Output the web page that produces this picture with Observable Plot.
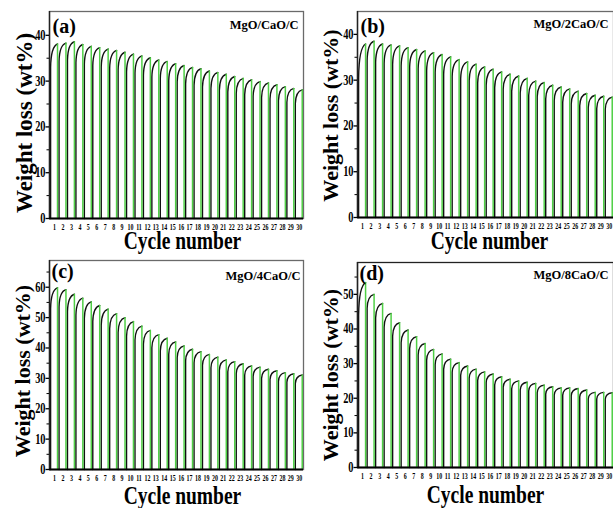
<!DOCTYPE html>
<html><head><meta charset="utf-8">
<script src="https://cdn.jsdelivr.net/npm/d3@7"></script>
<script src="https://cdn.jsdelivr.net/npm/@observablehq/plot@0.6"></script>
<style>
body{margin:0;background:#fff}
#fig{position:relative;width:613px;height:508px;overflow:hidden;background:#fff}
#fig svg{position:absolute}
</style></head><body><div id="fig"></div>
<script>
const cycles = [1,2,3,4,5,6,7,8,9,10,11,12,13,14,15,16,17,18,19,20,21,22,23,24,25,26,27,28,29,30];

const peaksA  = [38.1,38.3,38.6,38.0,37.6,37.3,37.0,36.7,36.3,35.9,35.5,35.1,34.6,34.3,33.8,33.4,33.0,32.7,32.2,31.9,31.5,31.0,30.6,30.3,29.9,29.6,29.2,28.8,28.4,28.1];
const startsA = [33.0,34.3,34.6,34.0,33.7,33.4,33.1,32.8,32.4,32.0,31.7,31.3,30.9,30.6,30.1,29.8,29.4,29.1,28.7,28.4,28.0,27.6,27.3,27.0,26.7,26.4,26.1,25.7,25.4,25.1];

const peaksB  = [37.9,38.5,37.9,37.7,37.5,37.1,36.7,36.4,36.0,35.6,35.1,34.5,34.0,33.5,32.9,32.4,31.8,31.3,30.9,30.4,29.8,29.5,28.9,28.5,28.1,27.6,27.1,26.7,26.5,26.3];
const startsB = [30.5,34.3,33.9,33.7,33.5,33.1,32.8,32.5,32.1,31.7,31.3,30.8,30.3,29.9,29.4,28.9,28.4,28.0,27.6,27.2,26.7,26.4,25.9,25.5,25.2,24.8,24.4,24.0,23.8,23.6];

const peaksC  = [59.8,59.2,57.7,56.4,55.2,54.0,52.8,51.3,50.0,48.7,47.2,45.8,44.4,43.2,42.0,40.7,39.6,38.8,37.9,37.0,36.1,35.5,34.8,34.1,33.7,33.0,32.5,31.9,31.5,31.1];
const startsC = [53.0,53.5,52.0,50.8,49.8,48.7,47.6,46.3,45.1,43.9,42.6,41.3,40.1,39.0,37.9,36.8,35.8,35.1,34.3,33.5,32.7,32.2,31.6,31.0,30.6,30.0,29.6,29.0,28.7,28.3];

const peaksD  = [53.4,50.0,47.4,44.5,41.8,39.7,37.8,35.8,34.1,32.8,31.3,30.3,29.3,28.4,27.6,27.0,26.2,25.5,25.0,24.6,24.3,23.8,23.3,23.0,23.0,22.8,22.4,21.7,21.7,21.6];
const startsD = [44.0,46.0,43.2,40.5,38.0,36.0,34.3,32.5,31.0,29.7,28.4,27.5,26.6,25.8,25.1,24.5,23.8,23.2,22.7,22.4,22.1,21.6,21.2,20.9,20.9,20.7,20.4,19.8,19.8,19.7];

const yTicksAB = [0,10,20,30,40];
const yTicksC = [0,10,20,30,40,50,60];
const yTicksD = [0,10,20,30,40,50];
const yMinorAB = [5,15,25,35];
const yMinorC = [5,15,25,35,45,55,65];
const yMinorD = [5,15,25,35,45,55];

const panelLabels = ["(a)","(b)","(c)","(d)"];
const sampleNames = ["MgO/CaO/C","MgO/2CaO/C","MgO/4CaO/C","MgO/8CaO/C"];
const xTitle = "Cycle number";
const yTitle = "Weight loss (wt%)";

const FONT = "Liberation Serif, Times New Roman, serif";
const GREEN = "#4fcf45";
const X0 = 0.4, X1 = 30.5;

// TGA-like cycle shape: vertical jump, then steep-then-flattening rise
function tgaCurve(context) {
  let pts = [];
  return {
    areaStart() {}, areaEnd() {},
    lineStart() { pts = []; },
    point(x, y) { pts.push([+x, +y]); },
    lineEnd() {
      if (!pts.length) return;
      context.moveTo(pts[0][0], pts[0][1]);
      for (let i = 1; i < pts.length; i++) {
        const [xa, ya] = pts[i - 1], [xb, yb] = pts[i];
        if (Math.abs(xb - xa) < 0.01) { context.lineTo(xb, yb); continue; }
        const dx = xb - xa, dy = yb - ya;
        context.bezierCurveTo(xa + 0.04 * dx, ya + 0.62 * dy, xa + 0.38 * dx, ya + 0.93 * dy, xb, yb);
      }
    }
  };
}

const panels = [
  {peaks: peaksA, starts: startsA, yMax: 45.2, ticks: yTicksAB, minor: yMinorAB, left: 0, top: 0, width: 306, height: 258, mt: 11, mb: 40, mr: 3,
   xt: {dx: 6, dy: 30}, yt: {dx: -25, dy: 8, size: 23}, lab: {dx: 3, dy: 7}, nm: {dx: -5, dy: 9}},
  {peaks: peaksB, starts: startsB, yMax: 45, ticks: yTicksAB, minor: yMinorAB, left: 308, top: 0, width: 308, height: 258, mt: 11, mb: 41, mr: 3,
   xt: {dx: 4, dy: 31}, yt: {dx: -27, dy: 1, size: 22}, lab: {dx: 3, dy: 7}, nm: {dx: -5, dy: 8}},
  {peaks: peaksC, starts: startsC, yMax: 68.8, ticks: yTicksC, minor: yMinorC, left: 0, top: 250, width: 306, height: 258, mt: 10, mb: 39, mr: 3,
   xt: {dx: 6, dy: 34}, yt: {dx: -27, dy: 6, size: 22}, lab: {dx: 2, dy: 3}, nm: {dx: -3, dy: 11}},
  {peaks: peaksD, starts: startsD, yMax: 59.2, ticks: yTicksD, minor: yMinorD, left: 308, top: 250, width: 308, height: 258, mt: 12, mb: 41, mr: 3,
   xt: {dx: 0, dy: 35}, yt: {dx: -27, dy: 10, size: 22}, lab: {dx: 2, dy: 3}, nm: {dx: -5, dy: 8}}
];

const fig = document.getElementById("fig");

panels.forEach((p, k) => {
  const blackPts = [];
  cycles.forEach((c, i) => {
    blackPts.push({c, x: c - 0.47, y: 0});
    blackPts.push({c, x: c - 0.47, y: p.starts[i]});
    blackPts.push({c, x: c + 0.35, y: p.peaks[i]});
  });
  const chart = Plot.plot({
    width: p.width, height: p.height,
    marginLeft: 49, marginRight: p.mr, marginTop: p.mt, marginBottom: p.mb,
    x: {domain: [X0, X1], axis: null},
    y: {domain: [0, p.yMax], axis: null},
    style: {background: "transparent", overflow: "visible"},
    marks: [
      Plot.frame({stroke: k === 3 ? "#222" : "#6a6a6a", strokeWidth: 1.3}),
      Plot.line(blackPts, {x: "x", y: "y", z: "c", stroke: "#111", strokeWidth: 1.4, curve: tgaCurve}),
      Plot.ruleX(cycles, {x: c => c + 0.35, y1: 0, y2: (c, i) => p.peaks[i], stroke: GREEN, strokeWidth: 1.5}),
      Plot.ruleX([X0], {stroke: "#222", strokeWidth: 1.4}),
      Plot.ruleY([0], {stroke: "#000", strokeWidth: 2.2}),
      Plot.ruleY(p.ticks, {y: d => d, x1: X0, x2: X0, insetLeft: -3.5, stroke: "#000", strokeWidth: 1.3}),
      Plot.ruleY(p.minor, {y: d => d, x1: X0, x2: X0, insetLeft: -2.5, stroke: "#000", strokeWidth: 1}),
      Plot.text(p.ticks, {x: X0, y: d => d, text: d => String(d), dx: -4, textAnchor: "end", fontSize: 14, fontWeight: "bold", fontFamily: FONT, fill: "#000"}),
      Plot.text(cycles, {x: d => d, y: 0, text: d => String(d), dy: 9, fontSize: 9, fontWeight: "bold", fontFamily: FONT, fill: "#000"}),
      Plot.text([xTitle], {frameAnchor: "bottom", textAnchor: "middle", lineAnchor: "bottom", dx: p.xt.dx, dy: p.xt.dy, fontSize: 25, fontWeight: "bold", fontFamily: FONT, fill: "#000"}),
      Plot.text([yTitle], {frameAnchor: "left", textAnchor: "middle", lineAnchor: "middle", rotate: -90, dx: p.yt.dx, dy: p.yt.dy, fontSize: p.yt.size, fontWeight: "bold", fontFamily: FONT, fill: "#000"}),
      Plot.text([panelLabels[k]], {frameAnchor: "top-left", textAnchor: "start", lineAnchor: "top", dx: p.lab.dx, dy: p.lab.dy, fontSize: 20, fontWeight: "bold", fontFamily: FONT, fill: "#000"}),
      Plot.text([sampleNames[k]], {frameAnchor: "top-right", textAnchor: "end", lineAnchor: "top", dx: p.nm.dx, dy: p.nm.dy, fontSize: 12.5, fontWeight: "bold", fontFamily: FONT, fill: "#000"})
    ]
  });
  chart.style.left = p.left + "px";
  chart.style.top = p.top + "px";
  fig.appendChild(chart);
  const squeeze = (t, f) => {
    const L = t.getComputedTextLength();
    if (L > 0) { t.setAttribute("textLength", (L * f).toFixed(2)); t.setAttribute("lengthAdjust", "spacingAndGlyphs"); }
  };
  const yTickSet = new Set(p.ticks.map(String));
  const cycleSet = new Set(cycles.map(String));
  chart.querySelectorAll("text").forEach(t => {
    const s = t.textContent;
    const g = t.closest("g");
    const fs = g ? g.getAttribute("font-size") : null;
    if (s === xTitle) squeeze(t, 0.78);
    else if (fs === "9" && cycleSet.has(s)) squeeze(t, 0.66);
    else if (fs === "14" && yTickSet.has(s)) squeeze(t, 0.74);
  });
});
</script></body></html>
